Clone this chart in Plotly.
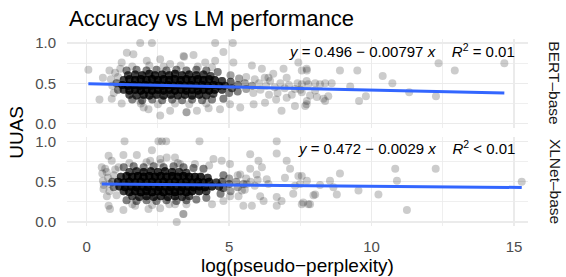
import numpy as np
import plotly.graph_objects as go

# ---------------- data ----------------
# BERT-base panel: x = log(pseudo-perplexity), y = UUAS, n = number of overlapping observations
bert_x = [
    1.45, 1.7, 1.95, 2.2, 2.4, 2.65, 2.9, 3.1, 3.35, 3.6, 3.85, 4.1, 4.35,
    1.3, 1.5, 1.7, 1.9, 2.1, 2.3, 2.5, 2.7, 2.9, 3.1, 3.3, 3.5, 3.7, 3.9, 4.1, 4.3, 4.5, 4.75,
    1.25, 1.45, 1.65, 1.85, 2.05, 2.25, 2.45, 2.65, 2.85, 3.05, 3.25, 3.45, 3.65, 3.85, 4.05, 4.25, 4.45, 4.65, 4.85,
    1.3, 1.5, 1.7, 1.9, 2.1, 2.3, 2.5, 2.7, 2.9, 3.1, 3.3, 3.5, 3.7, 3.9, 4.1, 4.3, 4.5, 4.75,
    1.5, 1.75, 2.0, 2.2, 2.45, 2.7, 2.95, 3.2, 3.45, 3.7, 3.95, 4.2, 4.45,
    1.4, 1.75, 2.1, 2.45, 2.8, 3.15, 3.5, 3.85, 4.2, 4.6,
    1.6, 1.95, 2.3, 2.65, 3.0, 3.35, 3.7, 4.05, 4.4, 4.8,
    1.05, 1.1,
    5.05, 5.1, 5.0, 5.05, 5.3, 5.35, 5.3, 5.55, 5.6, 5.8,
    1.6, 2.2, 2.7, 3.3, 3.9, 4.4,
    1.9, 2.5, 3.1, 3.6, 4.2,
    1.1, 0.9, 0.95, 0.85, 1.0,
    5.6, 5.85, 5.9, 6.05, 6.1, 6.3, 6.25, 6.4,
    0.06, 0.45, 0.57, 0.80, 0.88, 1.23, 1.88, 2.29, 1.41, 1.64, 1.23, 1.18, 2.11, 2.58, 2.93, 3.4,
    2.0, 2.17, 2.58, 2.93, 1.88, 3.5,
    4.51, 5.13, 4.8, 3.75, 3.42, 4.16, 4.51, 5.15, 5.8, 6.15, 6.38, 6.44, 6.91, 7.02, 7.43, 7.72,
    7.72, 7.31, 7.02, 7.31, 6.84, 7.72, 6.26, 5.86, 5.39, 5.03, 4.68, 4.28, 3.87, 3.51,
    7.55, 7.73, 7.55, 7.55, 7.73, 7.67, 7.78, 8.02, 8.19, 8.37, 8.6, 8.02, 8.08, 8.31, 8.48, 8.37, 7.84,
    8.89, 9.50, 9.25, 9.56, 9.80, 10.39, 10.73, 11.32, 12.26, 12.35, 12.92, 14.66,
    6.6, 6.7, 6.8, 6.95, 7.1, 7.2, 6.55, 6.65, 7.4, 7.5,
]
bert_y = [
    0.60, 0.61, 0.60, 0.62, 0.60, 0.61, 0.60, 0.62, 0.60, 0.61, 0.60, 0.61, 0.59,
    0.54, 0.55, 0.54, 0.55, 0.54, 0.55, 0.54, 0.55, 0.54, 0.55, 0.54, 0.55, 0.54, 0.55, 0.54, 0.55, 0.54, 0.53,
    0.48, 0.47, 0.48, 0.47, 0.48, 0.47, 0.48, 0.47, 0.48, 0.47, 0.48, 0.47, 0.48, 0.47, 0.48, 0.47, 0.48, 0.47, 0.47,
    0.42, 0.41, 0.42, 0.41, 0.42, 0.41, 0.42, 0.41, 0.42, 0.41, 0.42, 0.41, 0.42, 0.41, 0.42, 0.41, 0.42, 0.42,
    0.36, 0.35, 0.36, 0.35, 0.36, 0.35, 0.36, 0.35, 0.36, 0.35, 0.36, 0.35, 0.37,
    0.66, 0.67, 0.66, 0.67, 0.66, 0.67, 0.66, 0.67, 0.66, 0.64,
    0.30, 0.29, 0.30, 0.29, 0.30, 0.29, 0.30, 0.29, 0.30, 0.31,
    0.50, 0.42,
    0.52, 0.44, 0.38, 0.60, 0.48, 0.56, 0.40, 0.50, 0.43, 0.47,
    0.71, 0.72, 0.71, 0.72, 0.71, 0.70,
    0.25, 0.24, 0.25, 0.24, 0.25,
    0.58, 0.47, 0.38, 0.55, 0.63,
    0.58, 0.38, 0.55, 0.50, 0.42, 0.47, 0.57, 0.36,
    0.67, 0.30, 0.57, 0.66, 0.31, 0.25, 1.0, 1.0, 0.88, 0.86, 0.76, 0.68, 0.78, 0.80, 0.74, 0.84,
    0.20, 0.18, 0.10, 0.16, 0.28, 0.14,
    1.0, 1.0, 0.89, 0.85, 0.83, 0.76, 0.78, 0.76, 0.72, 0.68, 0.57, 0.53, 0.68, 0.57, 0.76, 0.68,
    0.53, 0.43, 0.32, 0.22, 0.16, 0.24, 0.26, 0.24, 0.20, 0.24, 0.18, 0.19, 0.16, 0.14,
    0.66, 0.66, 0.49, 0.39, 0.28, 0.22, 0.49, 0.50, 0.49, 0.50, 0.50, 0.41, 0.33, 0.31, 0.34, 0.28, 0.35,
    0.66, 0.66, 0.46, 0.28, 0.34, 0.59, 0.50, 0.39, 0.34, 0.75, 0.66, 0.75,
    0.45, 0.38, 0.50, 0.44, 0.48, 0.36, 0.62, 0.30, 0.50, 0.42,
]
bert_n = (
    [5, 6, 7, 7, 7, 7, 7, 7, 7, 7, 7, 6, 5]
    + [6, 8, 9, 10, 10, 10, 10, 10, 10, 10, 10, 10, 10, 10, 10, 9, 8, 6]
    + [7, 9, 10, 10, 10, 10, 10, 10, 10, 10, 10, 10, 10, 10, 10, 10, 9, 8, 6]
    + [6, 8, 9, 10, 10, 10, 10, 10, 10, 10, 10, 10, 10, 10, 10, 9, 8, 6]
    + [5, 6, 7, 7, 7, 7, 7, 7, 7, 7, 7, 6, 5]
    + [3] * 10 + [3] * 10 + [3, 3]
    + [4, 4, 3, 2, 3, 2, 3, 2, 2, 2]
    + [1] * 6 + [1] * 5 + [1] * 5 + [1] * 8
    + [1] * 16 + [1] * 6 + [1] * 16 + [1] * 14 + [1] * 17 + [1] * 12 + [1] * 10
)

# XLNet-base panel
xlnet_x = [
    1.5, 1.75, 2.0, 2.25, 2.5, 2.75, 3.0, 3.25, 3.5,
    1.2, 1.4, 1.6, 1.8, 2.0, 2.2, 2.4, 2.6, 2.8, 3.0, 3.2, 3.4, 3.6, 3.8, 4.0, 4.25,
    1.1, 1.3, 1.5, 1.7, 1.9, 2.1, 2.3, 2.5, 2.7, 2.9, 3.1, 3.3, 3.5, 3.7, 3.9, 4.1, 4.3, 4.55,
    1.15, 1.35, 1.55, 1.75, 1.95, 2.15, 2.35, 2.55, 2.75, 2.95, 3.15, 3.35, 3.55, 3.75, 3.95, 4.15, 4.4, 4.65,
    1.3, 1.5, 1.7, 1.9, 2.1, 2.3, 2.5, 2.7, 2.9, 3.1, 3.3, 3.5, 3.7, 3.95, 4.2,
    1.6, 1.85, 2.1, 2.35, 2.6, 2.85, 3.1, 3.35, 3.6,
    1.3, 1.65, 2.0, 2.35, 2.7, 3.05, 3.4, 3.75, 4.1,
    1.4, 1.75, 2.1, 2.45, 2.8, 3.15, 3.5, 3.85, 4.2,
    0.9, 0.95,
    4.75, 4.8, 4.8, 4.7, 5.0, 5.0, 5.05, 5.25, 5.3, 5.5,
    1.5, 2.1, 2.6, 3.2, 3.8, 4.3,
    1.6, 2.3, 2.9, 3.5,
    0.95, 0.8, 0.75, 0.8, 0.7, 1.0, 1.05,
    5.3, 5.55, 5.6, 5.75, 5.9, 6.0,
    1.33, 2.52, 2.64, 2.79, 2.29, 1.76, 1.29, 0.77, 0.88, 0.53, 0.65, 1.12, 2.23, 2.58, 2.81, 3.1, 3.28,
    0.57, 0.59, 0.71, 0.77, 0.82, 1.29, 1.70, 2.17, 2.58, 3.1, 3.4, 3.16, 0.55, 0.6,
    3.96, 6.67, 6.67, 5.74, 6.03, 5.74, 6.15, 5.97, 6.32, 6.38, 6.09, 6.21, 5.8, 5.5, 6.67, 6.67,
    7.02, 7.14, 6.96, 7.43, 7.31, 7.25, 6.84, 7.6, 7.78, 3.39, 4.4, 4.8, 5.03, 5.33, 5.03, 4.74,
    4.45, 5.39, 5.62, 5.45,
    7.55, 7.49, 7.73, 7.55, 7.84, 8.02, 7.96, 8.19, 8.54, 8.89, 8.66, 8.78, 9.54, 10.24, 10.83,
    10.89, 11.24, 12.25, 15.27,
]
xlnet_y = [
    0.62, 0.63, 0.62, 0.63, 0.62, 0.63, 0.62, 0.62, 0.61,
    0.56, 0.57, 0.56, 0.57, 0.56, 0.57, 0.56, 0.57, 0.56, 0.57, 0.56, 0.57, 0.56, 0.56, 0.56, 0.55,
    0.50, 0.49, 0.50, 0.49, 0.50, 0.49, 0.50, 0.49, 0.50, 0.49, 0.50, 0.49, 0.50, 0.49, 0.50, 0.49, 0.50, 0.49,
    0.44, 0.43, 0.44, 0.43, 0.44, 0.43, 0.44, 0.43, 0.44, 0.43, 0.44, 0.43, 0.44, 0.43, 0.44, 0.43, 0.44, 0.44,
    0.38, 0.37, 0.38, 0.37, 0.38, 0.37, 0.38, 0.37, 0.38, 0.37, 0.38, 0.37, 0.38, 0.38, 0.38,
    0.32, 0.31, 0.32, 0.31, 0.32, 0.31, 0.32, 0.31, 0.32,
    0.68, 0.69, 0.68, 0.69, 0.68, 0.69, 0.68, 0.67, 0.66,
    0.27, 0.26, 0.27, 0.26, 0.27, 0.26, 0.27, 0.28, 0.30,
    0.50, 0.43,
    0.50, 0.42, 0.58, 0.35, 0.47, 0.54, 0.38, 0.50, 0.43, 0.47,
    0.73, 0.74, 0.73, 0.73, 0.72, 0.70,
    0.22, 0.21, 0.22, 0.22,
    0.58, 0.47, 0.55, 0.38, 0.62, 0.65, 0.33,
    0.58, 0.40, 0.54, 0.50, 0.45, 0.52,
    1.0, 1.0, 1.0, 1.0, 0.89, 0.83, 0.83, 0.82, 0.76, 0.68, 0.66, 0.68, 0.76, 0.78, 0.80, 0.80, 0.72,
    0.51, 0.41, 0.32, 0.20, 0.16, 0.15, 0.20, 0.16, 0.17, 0.22, 0.10, 0.00, 0.60, 0.46,
    1.0, 1.0, 0.85, 0.84, 0.76, 0.66, 0.68, 0.59, 0.53, 0.47, 0.32, 0.26, 0.20, 0.20, 0.31, 0.20,
    0.76, 0.66, 0.55, 0.57, 0.45, 0.35, 0.26, 0.24, 0.22, 0.10, 0.22, 0.26, 0.32, 0.32, 0.72, 0.76,
    0.78, 0.59, 0.47, 0.39,
    0.57, 0.47, 0.51, 0.22, 0.22, 0.34, 0.33, 0.46, 0.51, 0.60, 0.43, 0.34, 0.39, 0.34, 0.66,
    0.51, 0.15, 0.66, 0.50,
]
xlnet_n = (
    [5, 6, 7, 7, 7, 7, 7, 6, 5]
    + [6, 8, 9, 10, 10, 10, 10, 10, 10, 10, 10, 10, 10, 9, 8, 6]
    + [7, 9, 10, 10, 10, 10, 10, 10, 10, 10, 10, 10, 10, 10, 10, 9, 8, 6]
    + [7, 9, 10, 10, 10, 10, 10, 10, 10, 10, 10, 10, 10, 10, 10, 9, 8, 6]
    + [6, 8, 9, 10, 10, 10, 10, 10, 10, 10, 10, 10, 9, 8, 6]
    + [5, 6, 7, 7, 7, 7, 7, 6, 5]
    + [3] * 9 + [3] * 9 + [3, 3]
    + [4, 4, 3, 3, 3, 2, 2, 2, 2, 2]
    + [1] * 6 + [1] * 4 + [1] * 7 + [1] * 6
    + [1] * 17 + [1] * 14 + [1] * 16 + [1] * 16 + [1] * 4 + [1] * 15 + [1] * 4
)

# linear fits shown in the panels
bert_fit = (0.496, -0.00797)
xlnet_fit = (0.472, -0.0029)
bert_label = "<i>y</i> = 0.496 \u2212 0.00797 <i>x</i>\u00a0\u00a0\u00a0\u00a0<i>R</i><sup>2</sup> = 0.01"
xlnet_label = "<i>y</i> = 0.472 \u2212 0.0029 <i>x</i>\u00a0\u00a0\u00a0\u00a0<i>R</i><sup>2</sup> < 0.01"
panel_names = ["BERT\u2013base", "XLNet\u2013base"]
x_ticks = [0, 5, 10, 15]
y_ticks = [0.0, 0.5, 1.0]

# ---------------- figure ----------------
FONT = "Liberation Sans, Arial, Helvetica, sans-serif"
W, H = 566, 277
L, R, T, B = 66.7, 528.0, 39.3, 225.7  # plot area in px


def px2paper_x(p):
    return (p - L) / (R - L)


def px2paper_y(p):
    return (B - p) / (B - T)


fig = go.Figure()
panels = [
    (bert_x, bert_y, bert_n, bert_fit, "x", "y"),
    (xlnet_x, xlnet_y, xlnet_n, xlnet_fit, "x2", "y2"),
]
for xs, ys, ns, (a, b), xa, ya in panels:
    xs = np.asarray(xs, float)
    ys = np.asarray(ys, float)
    ns = np.asarray(ns, int)
    fig.add_trace(go.Scatter(
        x=np.repeat(xs, ns), y=np.repeat(ys, ns), mode="markers",
        marker=dict(size=8, color="rgba(0,0,0,0.2)", line=dict(width=0)),
        xaxis=xa, yaxis=ya, showlegend=False, hoverinfo="skip"))
    x0, x1 = xs.min(), xs.max()
    fig.add_trace(go.Scatter(
        x=[x0, x1], y=[a + b * x0, a + b * x1], mode="lines",
        line=dict(color="#3366FF", width=3),
        xaxis=xa, yaxis=ya, showlegend=False, hoverinfo="skip"))

grid = dict(showgrid=True, gridcolor="#EBEBEB", gridwidth=1.4, zeroline=False,
            showline=False, ticks="outside", ticklen=7, tickcolor="rgba(0,0,0,0)",
            tickfont=dict(family=FONT, size=15, color="#4D4D4D"))
minor_x = dict(dtick=2.5, showgrid=True, gridcolor="#EBEBEB", gridwidth=0.8, ticks="")
minor_y = dict(dtick=0.25, showgrid=True, gridcolor="#EBEBEB", gridwidth=0.8, ticks="")

xr = [-0.69, 15.49]
yr = [-0.05, 1.05]
gap = (137.3 - 127.7) / (B - T) / 2
fig.update_layout(
    width=W, height=H,
    margin=dict(l=L, r=W - R, t=T, b=H - B, pad=0),
    paper_bgcolor="white", plot_bgcolor="white",
    xaxis=dict(domain=[0, 1], range=xr, anchor="y", matches="x2", showticklabels=False,
               tickvals=x_ticks, minor=minor_x, **grid),
    xaxis2=dict(domain=[0, 1], range=xr, anchor="y2", tickvals=x_ticks, minor=minor_x, **grid),
    yaxis=dict(domain=[0.5 + gap, 1], range=yr, anchor="x", tickvals=y_ticks,
               tickformat=".1f", minor=minor_y, **grid),
    yaxis2=dict(domain=[0, 0.5 - gap], range=yr, anchor="x2", tickvals=y_ticks,
                tickformat=".1f", minor=minor_y, **grid),
)

ann = []
# regression labels
ann.append(dict(x=15.1, y=0.91, xref="x", yref="y", text=bert_label, showarrow=False,
                xanchor="right", yanchor="middle", font=dict(family=FONT, size=15, color="black")))
ann.append(dict(x=15.1, y=0.925, xref="x2", yref="y2", text=xlnet_label, showarrow=False,
                xanchor="right", yanchor="middle", font=dict(family=FONT, size=15, color="black")))
# facet strips
for name, cy in zip(panel_names, [83.5, 181.7]):
    ann.append(dict(x=px2paper_x(555), y=px2paper_y(cy), xref="paper", yref="paper", text=name,
                    showarrow=False, textangle=90, xanchor="center", yanchor="middle",
                    font=dict(family=FONT, size=15.5, color="#1A1A1A")))
# axis titles
ann.append(dict(x=0.5, y=px2paper_y(265), xref="paper", yref="paper", text="log(pseudo\u2212perplexity)",
                showarrow=False, xanchor="center", yanchor="middle",
                font=dict(family=FONT, size=19, color="black")))
ann.append(dict(x=px2paper_x(16), y=px2paper_y(132.5), xref="paper", yref="paper", text="UUAS",
                showarrow=False, textangle=-90, xanchor="center", yanchor="middle",
                font=dict(family=FONT, size=19, color="black")))
# title
ann.append(dict(x=0, y=px2paper_y(19), xref="paper", yref="paper", text="Accuracy vs LM performance",
                showarrow=False, xanchor="left", yanchor="middle",
                font=dict(family=FONT, size=22, color="black")))
fig.update_layout(annotations=ann)

fig.write_html("out.html", config={"displayModeBar": False, "staticPlot": True})

# remove the browser's default page margin so the figure sits at the window origin
with open("out.html", encoding="utf-8") as f:
    html = f.read()
html = html.replace("<body>", '<body style="margin:0;padding:0;overflow:hidden">', 1)
with open("out.html", "w", encoding="utf-8") as f:
    f.write(html)
